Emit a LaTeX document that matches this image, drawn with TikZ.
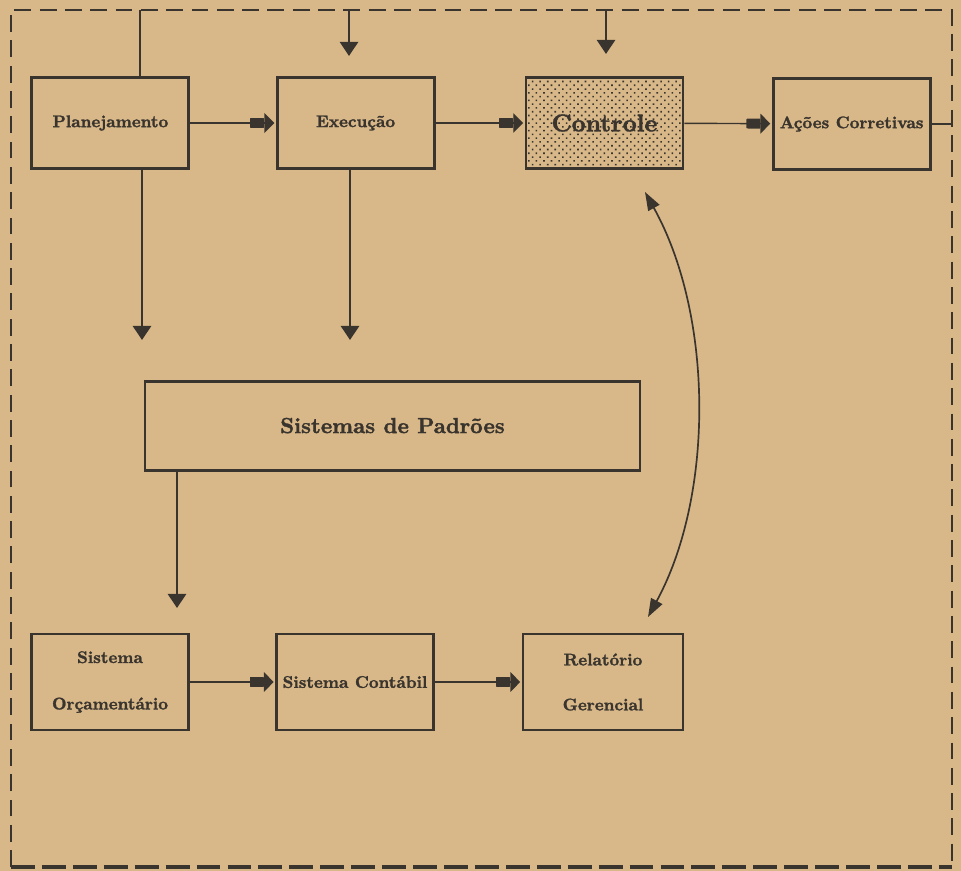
\documentclass[tikz,border=0pt]{standalone}
\usepackage{fontspec}
\usepackage{xcolor}
\usepackage{tikz}
\usetikzlibrary{arrows.meta,patterns.meta}

\newfontfamily\boxfont{lmroman10-bold.otf}[FakeBold=1.6]
\definecolor{paper}{RGB}{216,184,136}
\definecolor{ink}{RGB}{58,52,46}

\begin{document}
\begin{tikzpicture}[
      box/.style={draw=ink,line width=2pt,minimum width=3.925cm,minimum height=2.28cm,
                  align=center,text=ink,font=\large\boxfont},
      line/.style={draw=ink,line width=1.4pt},
      vtip/.style={line,-{Triangle[length=10pt,width=13pt]}},
      fat/.style={draw=ink,line width=1pt,shorten >=1pt,
                  -{Rectangle[length=10pt,width=7pt,round]Triangle[length=7pt,width=14pt]}},
      dbl/.style={draw=ink,line width=1.2pt,
                  {Triangle[length=13pt,width=9pt]}-{Triangle[length=13pt,width=9pt]}},
      frame/.style={draw=ink,line width=2pt,dash pattern=on 12pt off 6pt},
  ]
  \useasboundingbox[fill=paper] (0,0) rectangle (24.025,-21.775);

  %--- dashed frame ---
  \draw[frame] (0.275,-21.675) -- (0.275,-0.25) -- (23.8,-0.25) -- (23.8,-21.675);
  \draw[draw=ink,line width=3.5pt,dash pattern=on 17pt off 5pt] (0.275,-21.675) -- (23.8,-21.675);
  \coordinate (outR) at (23.8,0);

  %--- top row ---
  \node[box] (Plan) at (2.76,-3.075) {Planejamento};
  \node[box] (Exec) at (8.89,-3.075) {Execução};
  \node[box,pattern={Dots[distance=3.8pt,angle=45,radius=0.8pt]},pattern color=ink,
        font=\LARGE\boxfont] (Ctrl) at (15.11,-3.075) {Controle};
  \node[box] (Acao) at (21.29,-3.1) {Ações Corretivas};

  % inputs from the frame
  \coordinate (inP) at (3.5,-0.25);
  \coordinate (inE) at (8.725,-0.25);
  \coordinate (inC) at (15.15,-0.25);
  \draw[line] (inP) -- (inP |- Plan.north);
  \draw[vtip,shorten >=0.5cm] (inE) -- (inE |- Exec.north);
  \draw[vtip,shorten >=0.55cm] (inC) -- (inC |- Ctrl.north);

  \draw[fat] (Plan) -- (Exec);
  \draw[fat] (Exec) -- (Ctrl);
  \draw[fat] (Ctrl) -- (Acao);
  \draw[line,line width=1pt] (Acao.east) -- (Acao.east -| outR);

  %--- standards ---
  \node[box,minimum width=12.375cm,minimum height=2.225cm,
        font=\fontsize{15.5}{18}\selectfont\boxfont] (Pad) at (9.8125,-10.64) {Sistemas de Padrões};

  \coordinate (dP) at (3.55,-8.5);
  \coordinate (dE) at (8.75,-8.5);
  \coordinate (dS) at (4.425,-15.2);
  \draw[vtip] (dP |- Plan.south) -- (dP);
  \draw[vtip] (dE |- Exec.south) -- (dE);
  \draw[vtip] (dS |- Pad.south) -- (dS);

  %--- bottom row ---
  \node[box,minimum height=2.4cm] (Orc) at (2.75,-17.05) {Sistema\\[19pt]Orçamentário};
  \node[box,minimum height=2.4cm] (Cont) at (8.875,-17.05) {Sistema Contábil};
  \node[box,minimum height=2.4cm,minimum width=4.0cm] (Rel) at (15.075,-17.05) {Relatório\\[18pt]Gerencial};

  \draw[fat] (Orc) -- (Cont);
  \draw[fat] (Cont) -- (Rel);

  % report back to control
  \coordinate (cA) at (16.125,-4.8);
  \coordinate (cB) at (16.2,-15.425);
  \draw[dbl] (cA) .. controls (17.85,-7.9) and (17.85,-12.4) .. (cB);
\end{tikzpicture}
\end{document}
